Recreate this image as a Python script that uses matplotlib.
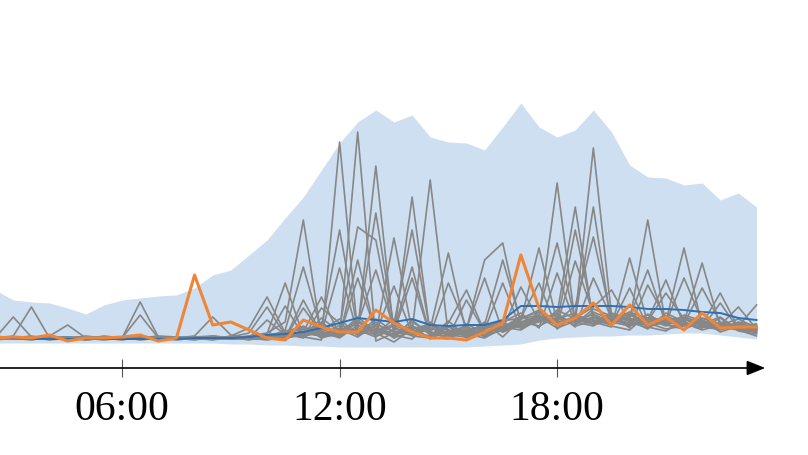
import matplotlib
matplotlib.use("Agg")
import matplotlib.pyplot as plt
from matplotlib.ticker import FixedLocator, FuncFormatter

# half-hourly time stamps (hours of day)
hours = [2.5 + 0.5 * i for i in range(43)]

band_upper = [7.8, 6.8, 6.6, 6.5, 6.0, 5.4, 6.3, 6.8, 7.0, 7.2, 7.3, 8.0, 9.3, 9.8,
              11.3, 12.8, 15.0, 17.1, 19.8, 22.5, 24.6, 25.8, 24.6, 25.3, 23.1, 22.6,
              22.5, 21.8, 24.1, 26.5, 24.1, 23.1, 23.8, 25.8, 23.6, 20.3, 19.1, 19.0,
              18.3, 18.5, 16.8, 17.5, 16.1]
band_lower = [2.5, 2.5, 2.5, 2.5, 2.5, 2.5, 2.5, 2.5, 2.5, 2.5, 2.5, 2.5, 2.5, 2.4,
              2.4, 2.3, 2.3, 2.2, 2.2, 2.1, 2.1, 2.1, 2.1, 2.1, 2.1, 2.1, 2.1, 2.2,
              2.3, 2.4, 2.8, 3.0, 3.1, 3.2, 3.2, 3.3, 3.3, 3.4, 3.5, 3.5, 3.3, 3.1, 2.9]

mean_load = [3.0, 3.0, 2.9, 2.9, 2.9, 2.9, 2.9, 2.9, 2.9, 2.9, 2.9, 3.0, 3.0, 3.0,
             3.1, 3.3, 3.4, 3.6, 4.0, 4.5, 5.0, 4.8, 4.6, 4.9, 4.3, 4.2, 4.3, 4.3,
             4.8, 6.2, 6.2, 6.1, 6.2, 6.2, 6.2, 6.1, 5.9, 5.9, 5.8, 5.6, 5.5, 5.0, 4.8]

highlight = [3.0, 3.1, 3.0, 3.3, 2.7, 3.0, 3.0, 3.1, 3.3, 2.7, 3.0, 9.3, 4.3, 4.6,
             3.8, 3.0, 2.8, 4.8, 4.1, 3.6, 3.6, 5.8, 4.5, 3.6, 3.0, 3.0, 2.8, 3.6,
             4.5, 11.3, 6.0, 4.3, 5.0, 6.5, 4.3, 6.3, 4.3, 5.1, 3.8, 5.5, 4.0, 4.1, 4.1]

days = [
    [3.0, 5.1, 3.1, 2.9, 3.0, 2.8, 3.0, 3.1, 2.9, 3.0, 2.9, 3.1, 3.2, 3.0, 2.9, 3.3, 3.6, 3.1, 2.8, 22.6, 3.4, 4.2, 3.0, 4.8, 3.3, 8.5, 4.1, 3.2, 3.8, 4.5, 5.2, 4.6, 13.8, 5.1, 4.4, 5.6, 4.9, 4.2, 5.3, 4.7, 4.1, 4.5, 3.9],
    [2.9, 3.2, 6.1, 3.0, 2.8, 3.1, 2.9, 3.0, 3.2, 2.9, 3.0, 2.8, 3.1, 2.9, 3.2, 3.0, 2.8, 3.9, 3.4, 3.1, 23.6, 2.7, 3.5, 4.2, 2.9, 3.8, 3.3, 4.6, 3.1, 4.9, 5.8, 4.4, 5.1, 22.0, 5.3, 4.8, 3.9, 5.5, 4.6, 4.0, 5.0, 3.7, 3.4],
    [3.1, 2.9, 3.0, 3.2, 4.3, 3.0, 2.9, 3.1, 2.8, 3.0, 3.1, 2.9, 3.0, 3.1, 2.8, 3.2, 3.4, 3.0, 4.5, 3.2, 10.8, 3.5, 2.6, 3.9, 4.4, 3.1, 6.8, 3.6, 4.0, 5.2, 4.1, 5.8, 4.9, 16.1, 4.2, 3.8, 5.4, 4.3, 3.9, 4.8, 3.6, 4.2, 3.5],
    [2.8, 3.0, 2.9, 3.1, 3.0, 2.9, 3.2, 3.0, 6.6, 3.1, 2.9, 3.0, 2.8, 3.1, 3.0, 2.9, 3.7, 4.1, 3.0, 3.5, 3.8, 20.2, 3.3, 2.9, 4.6, 3.4, 3.9, 9.0, 3.6, 4.3, 5.0, 4.7, 6.2, 13.1, 4.9, 5.4, 4.1, 3.7, 4.8, 4.4, 5.1, 3.8, 3.2],
    [3.2, 3.0, 3.1, 2.8, 3.0, 3.1, 2.9, 3.0, 5.3, 3.0, 3.1, 2.9, 3.2, 3.0, 2.9, 3.1, 3.0, 3.3, 4.6, 3.2, 4.0, 15.5, 4.1, 3.2, 3.0, 4.7, 3.2, 3.8, 8.5, 3.9, 5.6, 4.2, 5.0, 6.1, 7.8, 4.6, 4.0, 5.2, 4.5, 3.8, 4.3, 4.9, 4.0],
    [3.0, 3.1, 2.9, 3.0, 3.1, 2.8, 3.0, 2.9, 3.0, 3.1, 3.0, 3.2, 5.1, 3.3, 3.0, 2.8, 3.1, 3.5, 3.2, 4.3, 3.6, 3.4, 13.0, 3.7, 3.1, 2.9, 4.4, 3.5, 4.1, 5.0, 8.5, 3.9, 5.3, 4.6, 4.1, 11.0, 4.5, 3.9, 4.2, 5.0, 4.4, 3.8, 3.6],
    [2.9, 3.0, 3.2, 2.9, 3.0, 3.1, 3.0, 2.8, 3.1, 2.9, 3.0, 3.1, 2.9, 3.2, 4.0, 7.1, 3.5, 3.1, 3.8, 4.9, 3.3, 3.9, 3.2, 17.1, 3.4, 4.2, 3.0, 3.9, 4.6, 5.5, 4.0, 9.5, 4.4, 5.9, 5.2, 4.7, 14.8, 4.3, 5.0, 4.1, 3.9, 4.6, 4.2],
    [3.1, 2.9, 3.0, 3.0, 2.9, 3.0, 3.1, 2.9, 3.0, 3.2, 3.1, 2.9, 3.0, 3.1, 3.5, 6.1, 3.3, 4.2, 3.1, 3.4, 5.1, 3.6, 4.4, 13.8, 3.6, 3.1, 3.5, 4.5, 3.8, 4.9, 5.3, 4.3, 10.7, 5.4, 4.5, 5.1, 9.8, 4.4, 3.9, 4.6, 4.0, 4.3, 3.8],
    [3.0, 3.0, 2.8, 3.1, 3.0, 2.9, 3.0, 3.1, 2.9, 3.0, 2.8, 3.0, 3.1, 2.9, 3.0, 3.4, 8.5, 3.2, 3.6, 3.1, 4.7, 3.2, 3.8, 10.1, 3.2, 3.6, 4.2, 3.1, 4.5, 4.0, 4.7, 5.5, 4.1, 9.0, 5.0, 4.2, 4.8, 8.8, 4.3, 4.7, 3.9, 4.1, 4.4],
    [2.9, 3.1, 3.0, 2.9, 3.1, 3.0, 2.8, 3.0, 3.1, 2.9, 3.0, 3.0, 2.9, 3.0, 3.2, 3.5, 4.6, 14.8, 3.1, 3.8, 3.4, 4.6, 3.0, 3.7, 18.8, 3.3, 3.8, 4.2, 3.6, 4.4, 5.1, 4.0, 4.7, 5.0, 4.3, 8.0, 4.1, 4.6, 12.0, 4.2, 3.8, 4.5, 3.9],
    [3.0, 2.9, 3.1, 3.0, 2.9, 3.2, 3.0, 3.0, 2.9, 3.1, 3.0, 2.9, 3.1, 3.0, 2.9, 3.0, 3.8, 10.1, 3.7, 3.0, 4.3, 3.4, 4.9, 3.3, 3.9, 11.5, 3.4, 3.0, 4.0, 4.6, 4.2, 5.1, 4.6, 4.2, 5.4, 4.0, 8.3, 5.0, 4.6, 10.5, 4.1, 3.8, 4.3],
    [3.1, 3.0, 2.9, 3.0, 3.1, 2.9, 3.0, 3.1, 3.0, 2.8, 3.0, 3.1, 3.0, 2.9, 3.1, 3.2, 3.0, 6.8, 3.4, 3.9, 3.1, 4.4, 3.6, 9.0, 3.2, 4.5, 7.8, 3.6, 4.1, 3.8, 4.9, 4.4, 5.2, 4.8, 4.3, 5.3, 4.7, 7.5, 4.9, 4.4, 7.5, 4.0, 3.7],
    [2.9, 3.0, 3.1, 2.9, 3.0, 3.0, 3.1, 2.9, 3.0, 3.0, 2.9, 3.1, 2.9, 3.0, 3.1, 3.0, 3.3, 3.6, 7.1, 3.3, 4.6, 3.7, 3.2, 4.2, 3.5, 3.1, 3.9, 10.8, 12.5, 4.2, 4.6, 5.0, 4.3, 5.6, 4.8, 4.4, 5.0, 4.5, 9.0, 4.7, 4.3, 6.1, 3.9],
    [3.0, 3.1, 2.9, 3.0, 2.9, 3.1, 3.0, 3.0, 3.1, 2.9, 3.0, 3.0, 3.1, 2.9, 3.0, 3.3, 3.5, 3.9, 4.1, 13.8, 3.8, 3.1, 4.3, 3.5, 4.4, 3.3, 3.6, 4.3, 10.8, 4.6, 5.2, 4.4, 4.9, 5.3, 4.6, 5.0, 4.3, 4.8, 4.4, 8.0, 4.6, 4.2, 6.3],
    [3.1, 2.9, 3.0, 3.1, 3.0, 2.9, 3.0, 3.1, 2.9, 3.0, 3.1, 2.9, 3.0, 3.1, 2.9, 3.1, 3.2, 3.4, 3.3, 4.0, 14.1, 12.8, 3.5, 3.9, 3.0, 4.1, 3.3, 3.7, 3.9, 4.5, 4.8, 5.3, 4.2, 4.7, 4.9, 4.3, 4.6, 5.1, 4.4, 4.0, 6.5, 3.9, 3.6],
    [3.0, 3.0, 3.1, 2.9, 3.0, 3.1, 2.9, 3.0, 3.0, 3.1, 2.9, 3.0, 3.1, 3.0, 2.9, 3.0, 6.2, 3.2, 5.0, 3.6, 4.8, 3.5, 8.2, 3.4, 4.0, 3.5, 4.1, 3.2, 3.9, 8.1, 4.7, 4.9, 5.5, 4.3, 4.8, 5.6, 4.2, 4.7, 5.1, 4.5, 4.2, 4.0, 4.1],
    [2.9, 3.0, 3.0, 3.1, 2.9, 3.0, 3.0, 2.9, 3.1, 3.0, 3.0, 2.9, 3.0, 3.0, 3.1, 3.2, 3.0, 6.0, 3.5, 10.0, 3.4, 4.9, 3.6, 3.3, 4.3, 3.8, 3.2, 4.5, 3.6, 4.8, 12.0, 4.6, 5.0, 4.4, 5.2, 4.7, 5.3, 4.4, 4.9, 4.3, 4.1, 4.4, 3.7],
    [3.1, 3.0, 2.9, 3.0, 3.1, 3.0, 3.0, 3.1, 2.9, 3.0, 3.1, 3.0, 2.9, 3.0, 3.0, 4.8, 3.3, 3.4, 3.9, 3.2, 9.0, 3.6, 3.3, 4.6, 3.5, 3.0, 3.7, 4.0, 4.4, 4.1, 5.0, 18.5, 4.5, 5.1, 4.6, 4.2, 5.0, 4.8, 4.3, 4.6, 4.4, 4.1, 3.8],
    [3.0, 2.9, 3.0, 3.0, 2.9, 3.0, 3.1, 3.0, 3.0, 2.9, 3.0, 3.0, 3.0, 3.1, 3.0, 2.9, 3.4, 3.1, 6.0, 4.5, 3.3, 3.9, 3.4, 3.6, 4.0, 3.3, 3.1, 4.1, 4.7, 5.0, 5.6, 12.5, 4.8, 4.4, 5.0, 4.5, 4.3, 4.6, 4.2, 4.8, 4.1, 3.9, 4.0],
    [2.9, 3.1, 3.0, 2.9, 3.0, 3.0, 2.9, 3.0, 3.1, 3.0, 2.9, 3.0, 3.0, 2.9, 3.1, 3.0, 3.1, 3.6, 3.2, 3.8, 4.4, 9.8, 3.9, 3.5, 3.2, 4.2, 3.6, 3.3, 4.2, 4.6, 4.9, 5.4, 16.1, 4.6, 5.5, 4.9, 4.5, 4.9, 4.5, 4.3, 4.0, 4.2, 3.8],
]

tick_hours = [6, 12, 18]

fig = plt.figure(figsize=(8.08, 4.55), dpi=100)
ax = fig.add_axes([0, 87 / 455, 1, 368 / 455])

ax.fill_between(hours, band_lower, band_upper, color="#cddff0", lw=0, zorder=1)
for d in days:
    ax.plot(hours, d, color="#878787", lw=1.2, zorder=2)
ax.plot(hours, mean_load, color="#2f6fb4", lw=1.4, zorder=3)
ax.plot(hours, highlight, color="#ef8537", lw=2.2, zorder=4)

ax.set_xlim(2.634, 24.92)
ax.set_ylim(0, 36.8)

for s in ax.spines.values():
    s.set_visible(False)
ax.annotate("", xy=(23.74, 0), xytext=(2.634, 0),
            arrowprops=dict(arrowstyle="-|>,head_length=0.7,head_width=0.28",
                            color="black", lw=1.2, shrinkA=0, shrinkB=0,
                            mutation_scale=16),
            annotation_clip=False, zorder=5)

ax.xaxis.set_major_locator(FixedLocator(tick_hours))
ax.xaxis.set_major_formatter(FuncFormatter(lambda v, p: "%02d:00" % int(v)))
ax.tick_params(axis="x", direction="inout", length=13, width=0.8,
               color="#555555", pad=10, labelsize=30)
for lab in ax.get_xticklabels():
    lab.set_fontfamily("Liberation Serif")
ax.set_yticks([])

fig.savefig("out.png", dpi=100)
